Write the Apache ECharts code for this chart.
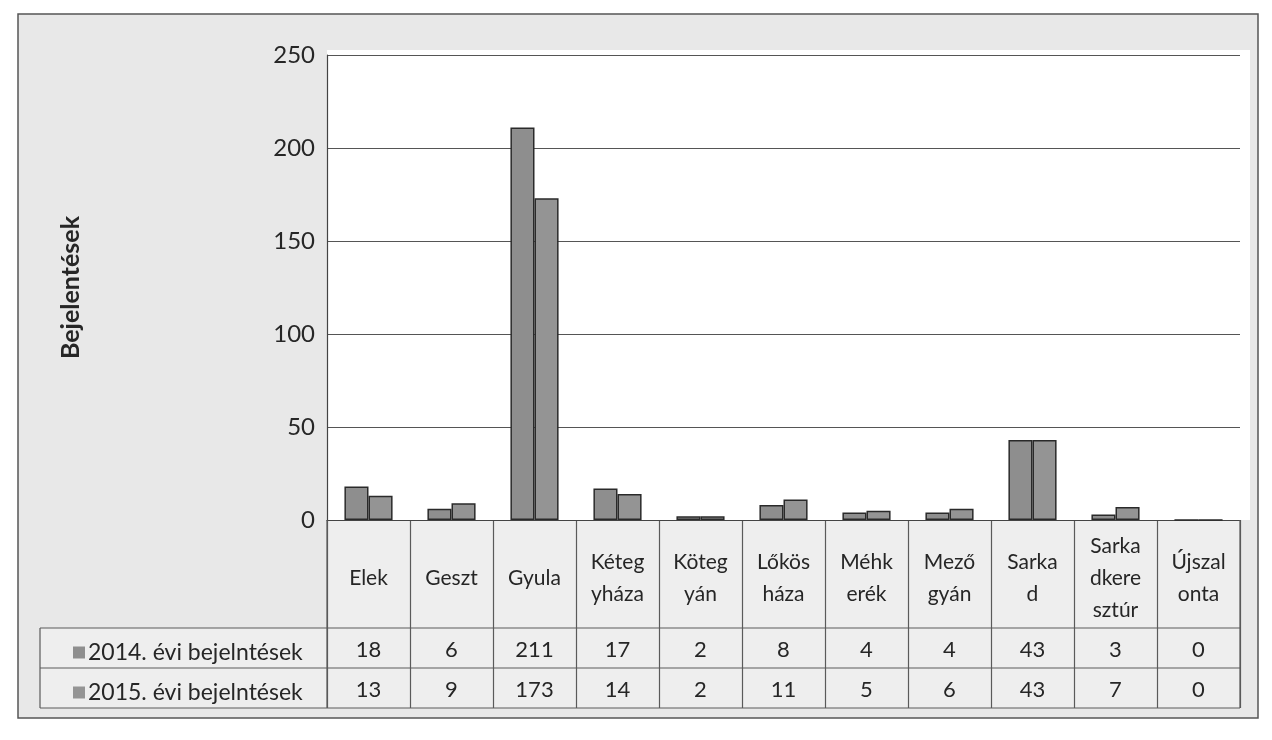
<!DOCTYPE html>
<html>
<head>
<meta charset="utf-8">
<script src="https://cdn.jsdelivr.net/npm/echarts@6/dist/echarts.min.js"></script>
<style>
html,body{margin:0;padding:0;background:#ffffff;}
#c{width:1272px;height:740px;}
</style>
</head>
<body>
<div id="c"></div>
<script>
const categories = ["Elek", "Geszt", "Gyula", "Kéteg\nyháza", "Köteg\nyán", "Lőkös\nháza", "Méhk\nerék", "Mező\ngyán", "Sarka\nd", "Sarka\ndkere\nsztúr", "Újszal\nonta"];
const seriesNames = ["2014. évi bejelntések", "2015. évi bejelntések"];
const values2014 = [18, 6, 211, 17, 2, 8, 4, 4, 43, 3, 0];
const values2015 = [13, 9, 173, 14, 2, 11, 5, 6, 43, 7, 0];
const yTicks = [0, 50, 100, 150, 200, 250];

const FONT = "Lato, 'Open Sans', sans-serif";
const chart = echarts.init(document.getElementById('c'));

const plotL = 327, plotR = 1240, plotT = 55, plotB = 520, tableB = 708;
const row1 = 628, row2 = 668, legL = 40;

const lineStyle = {stroke: '#5a5a5a', lineWidth: 1.2};
const TXT = '#262626';

chart.setOption({
  animation: false,
  backgroundColor: '#ffffff',
  textStyle: {fontFamily: FONT},
  graphic: [
    {type: 'rect', z: -10, shape: {x: 18, y: 14, width: 1240, height: 704}, style: {fill: '#e8e8e8', stroke: '#555', lineWidth: 1.5}},
    {type: 'rect', z: -9, shape: {x: plotL, y: plotT - 5, width: 1250 - plotL, height: plotB - plotT + 5}, style: {fill: '#ffffff'}},
    {type: 'rect', z: -9, shape: {x: plotL, y: plotB, width: plotR - plotL, height: tableB - plotB}, style: {fill: '#eeeeee'}},
    {type: 'rect', z: -9, shape: {x: legL, y: row1, width: plotL - legL, height: tableB - row1}, style: {fill: '#eeeeee'}},
    {type: 'line', z: 5, shape: {x1: legL, y1: row1, x2: plotR, y2: row1}, style: lineStyle},
    {type: 'line', z: 5, shape: {x1: legL, y1: row2, x2: plotR, y2: row2}, style: lineStyle},
    {type: 'line', z: 5, shape: {x1: legL, y1: tableB, x2: plotR, y2: tableB}, style: lineStyle},
    {type: 'line', z: 5, shape: {x1: legL, y1: row1, x2: legL, y2: tableB}, style: lineStyle},
    {type: 'line', z: 5, shape: {x1: plotL, y1: plotB, x2: plotL, y2: tableB}, style: lineStyle},
    {type: 'line', z: 5, shape: {x1: plotR, y1: plotB, x2: plotR, y2: tableB}, style: lineStyle}
  ],
  legend: [
    {data: [seriesNames[0]], left: 68, top: 636, orient: 'vertical', itemWidth: 12, itemHeight: 12, icon: 'rect', itemGap: 6,
     itemStyle: {borderWidth: 0}, textStyle: {fontFamily: FONT, fontSize: 23, color: TXT, padding: [0, 0, 0, -2]}},
    {data: [seriesNames[1]], left: 68, top: 676, orient: 'vertical', itemWidth: 12, itemHeight: 12, icon: 'rect', itemGap: 6,
     itemStyle: {borderWidth: 0}, textStyle: {fontFamily: FONT, fontSize: 23, color: TXT, padding: [0, 0, 0, -2]}}
  ],
  grid: [
    {left: plotL, right: 1272 - plotR, top: plotT, bottom: 740 - plotB, containLabel: false},
    {left: plotL, right: 1272 - plotR, top: plotB, bottom: 740 - tableB, containLabel: false}
  ],
  xAxis: [
    {type: 'category', gridIndex: 0, data: categories,
     axisLine: {show: true, lineStyle: {color: '#444', width: 1.2}}, axisTick: {show: false},
     axisLabel: {interval: 0, margin: 58, verticalAlign: 'middle', fontSize: 21, lineHeight: 32, color: TXT, fontFamily: FONT}},
    {type: 'category', gridIndex: 0, data: categories, position: 'bottom',
     axisLine: {show: false}, axisTick: {show: false},
     axisLabel: {interval: 0, margin: 130, verticalAlign: 'middle', fontSize: 22, color: TXT, fontFamily: FONT,
                 formatter: (v, i) => String(values2014[i])}},
    {type: 'category', gridIndex: 0, data: categories, position: 'bottom',
     axisLine: {show: false}, axisTick: {show: false},
     axisLabel: {interval: 0, margin: 170, verticalAlign: 'middle', fontSize: 22, color: TXT, fontFamily: FONT,
                 formatter: (v, i) => String(values2015[i])}},
    {type: 'category', gridIndex: 1, data: categories,
     axisLine: {show: false}, axisTick: {show: false}, axisLabel: {show: false},
     splitLine: {show: true, lineStyle: {color: '#5a5a5a', width: 1.2}}}
  ],
  yAxis: [
    {type: 'value', gridIndex: 0, min: 0, max: 250, interval: 50,
     name: 'Bejelentések', nameLocation: 'middle', nameGap: 244,
     nameTextStyle: {fontSize: 25, fontWeight: 'bold', color: TXT, fontFamily: FONT},
     axisLine: {show: true, lineStyle: {color: '#444', width: 1.2}}, axisTick: {show: false},
     axisLabel: {fontSize: 24, color: TXT, margin: 12, fontFamily: FONT,
                 formatter: v => yTicks.indexOf(v) >= 0 ? String(v) : ''},
     splitLine: {show: true, lineStyle: {color: '#555', width: 1.2}}},
    {type: 'value', gridIndex: 1, min: 0, max: 1, show: false}
  ],
  series: [
    {name: seriesNames[0], type: 'bar', xAxisIndex: 0, yAxisIndex: 0, data: values2014,
     barGap: '0%', barCategoryGap: '42%',
     itemStyle: {color: '#8e8e8e', borderColor: '#2a2a2a', borderWidth: 1.5}},
    {name: seriesNames[1], type: 'bar', xAxisIndex: 0, yAxisIndex: 0, data: values2015,
     barGap: '0%', barCategoryGap: '42%',
     itemStyle: {color: '#949494', borderColor: '#2a2a2a', borderWidth: 1.5}}
  ]
});
</script>
</body>
</html>
